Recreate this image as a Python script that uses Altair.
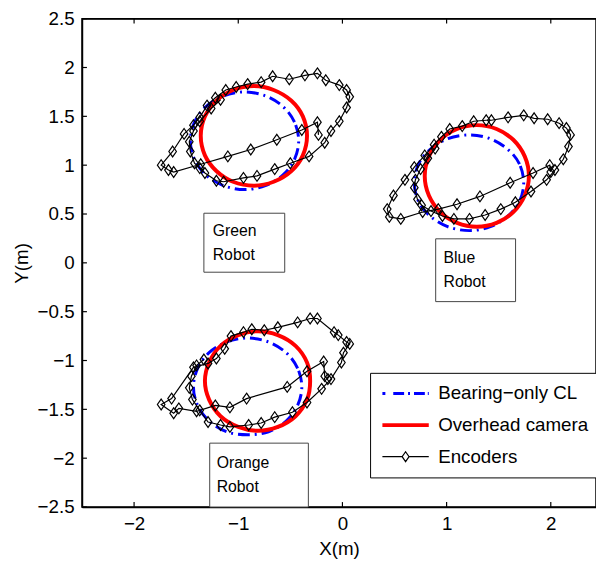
import altair as alt
import pandas as pd

# ---------------- data ----------------
robots = ["Green", "Blue", "Orange"]
series_names = ["Bearing\u2212only CL", "Overhead camera", "Encoders"]

# Encoders (odometry) trajectories
enc_green_x = [-0.23, -0.24, -0.39, -0.63, -0.88, -1.10, -1.36, -1.62, -1.67, -1.74, -1.63, -1.52, -1.43, -1.37,
               -1.30, -1.22, -1.12, -1.02, -0.91, -0.78, -0.67, -0.51, -0.36, -0.24, -0.16, -0.03, 0.04, 0.07,
               0.04, -0.03, -0.11, -0.17, -0.32, -0.50, -0.65, -0.82, -0.95, -1.14, -1.21, -1.32, -1.37, -1.42,
               -1.46, -1.47, -1.43, -1.37, -1.26, -1.17]
enc_green_y = [1.31, 1.44, 1.36, 1.26, 1.16, 1.09, 1.01, 0.93, 0.95, 1.00, 1.14, 1.32, 1.41, 1.49,
               1.61, 1.69, 1.77, 1.80, 1.83, 1.85, 1.91, 1.88, 1.92, 1.94, 1.87, 1.82, 1.77, 1.70,
               1.59, 1.45, 1.35, 1.23, 1.09, 1.02, 0.96, 0.89, 0.87, 0.83, 0.84, 0.92, 0.97, 1.02,
               1.14, 1.24, 1.35, 1.45, 1.58, 1.67]
enc_blue_x = [2.00, 1.99, 1.83, 1.61, 1.32, 1.10, 0.92, 0.77, 0.56, 0.45, 0.43, 0.49, 0.60, 0.69,
              0.79, 0.88, 0.95, 1.03, 1.15, 1.26, 1.38, 1.43, 1.59, 1.74, 1.84, 1.97, 2.08, 2.15,
              2.19, 2.17, 2.12, 2.04, 1.96, 1.81, 1.66, 1.52, 1.37, 1.22, 1.07, 0.96, 0.85, 0.76,
              0.72, 0.69, 0.70, 0.75, 0.82, 0.89]
enc_blue_y = [0.93, 1.00, 0.92, 0.82, 0.68, 0.60, 0.55, 0.52, 0.45, 0.47, 0.55, 0.69, 0.85, 0.98,
              1.10, 1.21, 1.29, 1.37, 1.40, 1.45, 1.46, 1.46, 1.49, 1.51, 1.48, 1.47, 1.43, 1.38,
              1.31, 1.19, 1.06, 0.95, 0.85, 0.73, 0.62, 0.55, 0.49, 0.45, 0.45, 0.48, 0.53, 0.59,
              0.65, 0.77, 0.85, 0.96, 1.07, 1.17]
enc_orange_x = [-0.14, -0.17, -0.18, -0.34, -0.53, -0.92, -1.08, -1.22, -1.40, -1.57, -1.62, -1.74, -1.64,
                -1.43, -1.29, -1.21, -1.13, -1.07, -0.95, -0.87, -0.75, -0.62, -0.43, -0.31, -0.24, -0.08,
                -0.04, 0.04, 0.07, 0.01, -0.01, -0.11, -0.20, -0.34, -0.48, -0.65, -0.78, -0.90, -1.08,
                -1.17, -1.29, -1.37, -1.44, -1.47, -1.45, -1.40, -1.33]
enc_orange_y = [-1.19, -1.16, -1.01, -1.11, -1.27, -1.39, -1.48, -1.46, -1.52, -1.49, -1.54, -1.45, -1.39,
                -1.07, -1.03, -0.98, -0.88, -0.75, -0.71, -0.68, -0.69, -0.66, -0.61, -0.57, -0.57, -0.71,
                -0.74, -0.81, -0.83, -0.92, -1.02, -1.19, -1.29, -1.43, -1.53, -1.58, -1.64, -1.66, -1.68,
                -1.66, -1.63, -1.51, -1.40, -1.28, -1.16, -1.05, -0.99]

# Overhead camera (ground truth) loops
cam_green_x = [-0.34, -0.38, -0.49, -0.66, -0.85, -1.05, -1.21, -1.32, -1.36, -1.32, -1.21, -1.05, -0.85, -0.66, -0.49, -0.38]
cam_green_y = [1.30, 1.50, 1.66, 1.77, 1.81, 1.77, 1.66, 1.50, 1.30, 1.10, 0.94, 0.83, 0.79, 0.83, 0.94, 1.10]
cam_blue_x = [1.79, 1.75, 1.64, 1.48, 1.29, 1.10, 0.94, 0.83, 0.79, 0.83, 0.94, 1.10, 1.29, 1.48, 1.64, 1.75]
cam_blue_y = [0.89, 1.09, 1.26, 1.37, 1.41, 1.37, 1.26, 1.09, 0.89, 0.69, 0.52, 0.41, 0.37, 0.41, 0.52, 0.69]
cam_orange_x = [-0.31, -0.34, -0.45, -0.62, -0.81, -1.00, -1.17, -1.28, -1.32, -1.28, -1.17, -1.00, -0.81, -0.62, -0.45, -0.34]
cam_orange_y = [-1.21, -1.02, -0.85, -0.74, -0.70, -0.74, -0.85, -1.02, -1.21, -1.40, -1.57, -1.68, -1.72, -1.68, -1.57, -1.40]

# Bearing-only cooperative localization estimates
bo_green_x = [-0.42, -0.46, -0.57, -0.74, -0.94, -1.14, -1.31, -1.42, -1.46, -1.42, -1.31, -1.14, -0.94, -0.74, -0.57, -0.46]
bo_green_y = [1.25, 1.44, 1.60, 1.71, 1.75, 1.71, 1.60, 1.44, 1.25, 1.06, 0.90, 0.79, 0.75, 0.79, 0.90, 1.06]
bo_blue_x = [1.74, 1.70, 1.59, 1.42, 1.22, 1.01, 0.84, 0.73, 0.69, 0.73, 0.84, 1.01, 1.22, 1.42, 1.59, 1.70]
bo_blue_y = [0.82, 1.01, 1.16, 1.27, 1.31, 1.27, 1.16, 1.01, 0.82, 0.63, 0.48, 0.37, 0.33, 0.37, 0.48, 0.63]
bo_orange_x = [-0.39, -0.43, -0.54, -0.71, -0.91, -1.11, -1.28, -1.39, -1.43, -1.39, -1.28, -1.11, -0.91, -0.71, -0.54, -0.43]
bo_orange_y = [-1.27, -1.08, -0.92, -0.81, -0.77, -0.81, -0.92, -1.08, -1.27, -1.46, -1.62, -1.73, -1.76, -1.73, -1.62, -1.46]

# Text boxes (annotations)
box_x0 = [-1.33, 0.895, -1.274]
box_x1 = [-0.554, 1.662, -0.327]
box_y0 = [0.508, 0.246, -1.846]
box_y1 = [-0.096, -0.397, -2.5]
box_line1 = ["Green", "Blue", "Orange"]
box_line2 = ["Robot", "Robot", "Robot"]
box_tx = [-1.245, 0.971, -1.207]
box_ty1 = [0.327, 0.045, -2.047]
box_ty2 = [0.075, -0.196, -2.299]

x_ticks = [-2, -1, 0, 1, 2]
y_ticks = [-2.5, -2, -1.5, -1, -0.5, 0, 0.5, 1, 1.5, 2, 2.5]
x_lim = [-2.5, 2.434]
y_lim = [-2.5, 2.5]

# ---------------- tables ----------------
def table(xs, ys, robot):
    return pd.DataFrame({"x": xs, "y": ys, "i": list(range(len(xs))), "robot": robot})

enc_df = pd.concat([table(enc_green_x, enc_green_y, "Green"),
                    table(enc_blue_x, enc_blue_y, "Blue"),
                    table(enc_orange_x, enc_orange_y, "Orange")])
cam_df = pd.concat([table(cam_green_x, cam_green_y, "Green"),
                    table(cam_blue_x, cam_blue_y, "Blue"),
                    table(cam_orange_x, cam_orange_y, "Orange")])
bo_df = pd.concat([table(bo_green_x, bo_green_y, "Green"),
                   table(bo_blue_x, bo_blue_y, "Blue"),
                   table(bo_orange_x, bo_orange_y, "Orange")])
box_df = pd.DataFrame({"x0": box_x0, "x1": box_x1, "y0": box_y0, "y1": box_y1,
                       "t1": box_line1, "t2": box_line2, "tx": box_tx, "ty1": box_ty1, "ty2": box_ty2})

FONT = "Liberation Sans"
W, H = 521, 495
TICK_X = 5 * (x_lim[1] - x_lim[0]) / W   # 5 px expressed in x units
TICK_Y = 5 * (y_lim[1] - y_lim[0]) / H   # 5 px expressed in y units
xs = alt.Scale(domain=x_lim, nice=False, zero=False)
ys = alt.Scale(domain=y_lim, nice=False, zero=False)

X = alt.X("x:Q", scale=xs, axis=alt.Axis(values=x_ticks, format="~g", title="X(m)", grid=False, ticks=False,
                                          domain=True, domainColor="black", domainWidth=1.5,
                                          labelFontSize=19, labelPadding=8, titleFontSize=19,
                                          titleFontWeight="normal", titlePadding=6, labelColor="black",
                                          titleColor="black", labelFont=FONT, titleFont=FONT))
Y = alt.Y("y:Q", scale=ys, axis=alt.Axis(values=y_ticks, format="~g", title="Y(m)", grid=False, ticks=False,
                                          domain=True, domainColor="black", domainWidth=1.5,
                                          labelFontSize=19, labelPadding=8, titleFontSize=19,
                                          titleFontWeight="normal", titlePadding=6, labelColor="black",
                                          titleColor="black", labelFont=FONT, titleFont=FONT))

base_enc = dict(x=X, y=Y, detail="robot:N", order="i:Q")

# axes box and inward-pointing ticks (MATLAB style), drawn through the same scales
frame_df = pd.DataFrame({"x0": [x_lim[0]], "x1": [x_lim[1]], "y0": [y_lim[0]], "y1": [y_lim[1]]})
frame = alt.Chart(frame_df).mark_rect(fill="transparent", stroke="black", strokeWidth=1.5).encode(
    x=alt.X("x0:Q", scale=xs), x2="x1:Q", y=alt.Y("y0:Q", scale=ys), y2="y1:Q")
xt_df = pd.DataFrame({"t": x_ticks, "lo": y_lim[0], "lo2": y_lim[0] + TICK_Y,
                      "hi": y_lim[1], "hi2": y_lim[1] - TICK_Y})
yt_df = pd.DataFrame({"t": y_ticks, "lo": x_lim[0], "lo2": x_lim[0] + TICK_X})
tick_b = alt.Chart(xt_df).mark_rule(color="black", strokeWidth=1.2).encode(
    x=alt.X("t:Q", scale=xs), y=alt.Y("lo:Q", scale=ys), y2="lo2:Q")
tick_t = alt.Chart(xt_df).mark_rule(color="black", strokeWidth=1.2).encode(
    x=alt.X("t:Q", scale=xs), y=alt.Y("hi:Q", scale=ys), y2="hi2:Q")
tick_l = alt.Chart(yt_df).mark_rule(color="black", strokeWidth=1.2).encode(
    y=alt.Y("t:Q", scale=ys), x=alt.X("lo:Q", scale=xs), x2="lo2:Q")

boxes = alt.Chart(box_df).mark_rect(fill="white", stroke="#444444", strokeWidth=1).encode(
    x=alt.X("x0:Q", scale=xs), x2="x1:Q", y=alt.Y("y0:Q", scale=ys), y2="y1:Q")
text1 = alt.Chart(box_df).mark_text(align="left", baseline="middle", fontSize=16, font=FONT, color="black").encode(
    x=alt.X("tx:Q", scale=xs), y=alt.Y("ty1:Q", scale=ys), text="t1:N")
text2 = alt.Chart(box_df).mark_text(align="left", baseline="middle", fontSize=16, font=FONT, color="black").encode(
    x=alt.X("tx:Q", scale=xs), y=alt.Y("ty2:Q", scale=ys), text="t2:N")

bo_line = alt.Chart(bo_df).mark_line(color="#0000ff", strokeWidth=3, strokeDash=[12, 5, 2, 5],
                                     interpolate="cardinal-closed").encode(**base_enc)
cam_line = alt.Chart(cam_df).mark_line(color="#ff0000", strokeWidth=4,
                                       interpolate="cardinal-closed").encode(**base_enc)
enc_line = alt.Chart(enc_df).mark_line(color="black", strokeWidth=1.2).encode(**base_enc)
DIAMOND = "M0,-1L0.7,0L0,1L-0.7,0Z"
enc_pts = alt.Chart(enc_df).mark_point(shape=DIAMOND, size=120, filled=False, color="black",
                                       strokeWidth=1.2, opacity=1).encode(x=X, y=Y)

# legend (drawn by Vega-Lite's own legend from explicit scale domains)
sym_blue = "M-1.6,0H-1M0.6,0H2.8M3.6,0H4M4.8,0H7M7.6,0H7.8"
sym_red = "M-1.6,0H7.8"
sym_black = "M-1.6,0H2.4M3.8,0H7.8M3.1,-1L3.8,0L3.1,1L2.4,0Z"
leg = alt.Legend(title=None, orient="none", legendX=292, legendY=359, fillColor="white", strokeColor="black",
                 padding=11, rowPadding=12, clipHeight=20, labelFontSize=19, labelFont=FONT, labelColor="black",
                 labelOffset=39, symbolSize=100, labelLimit=400, symbolOpacity=1)
legend_layer = alt.Chart(pd.DataFrame({"series": series_names})).transform_filter("false").mark_point(
    filled=False, size=100, opacity=1).encode(
    color=alt.Color("series:N", scale=alt.Scale(domain=series_names, range=["#0000ff", "#ff0000", "#000000"]), legend=leg),
    shape=alt.Shape("series:N", scale=alt.Scale(domain=series_names, range=[sym_blue, sym_red, sym_black]), legend=leg),
    strokeWidth=alt.StrokeWidth("series:N", scale=alt.Scale(type="ordinal", domain=series_names, range=[3, 4, 1.2]),
                                legend=leg),
)

chart = alt.layer(frame, tick_b, tick_t, tick_l, boxes, text1, text2, bo_line, cam_line, enc_line, enc_pts,
                  legend_layer).properties(
    width=W, height=H,
    autosize=alt.AutoSizeParams(type="none"),
    padding={"left": 75, "top": 7, "right": 0, "bottom": 58},
).configure(font=FONT, background="white").configure_view(stroke="black", strokeWidth=1)

chart.save("out.html", embed_options={"renderer": "svg", "actions": False})
